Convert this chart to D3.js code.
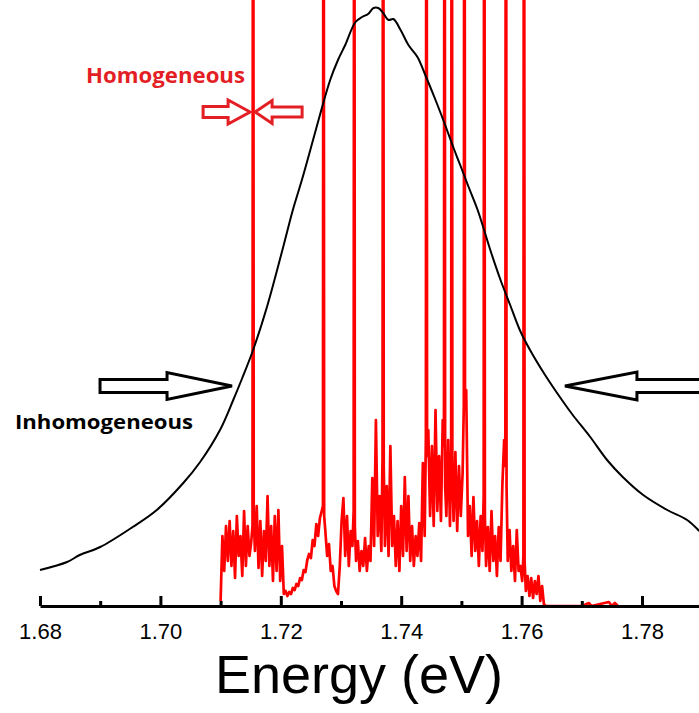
<!DOCTYPE html>
<html>
<head>
<meta charset="utf-8">
<script src="https://cdn.jsdelivr.net/npm/d3@7"></script>
<style>
body { margin: 0; background: #fff; }
</style>
</head>
<body>
<div id="chart"></div>
<script>
// axis ticks (eV)
var energyTicks = [1.68, 1.70, 1.72, 1.74, 1.76, 1.78];
var minorTicks = [1.69, 1.71, 1.73, 1.75, 1.77];

// broad ensemble line (black), [energy, intensity a.u.]
var envelope = [
	[1.6800, 36], [1.6845, 44], [1.6866, 51], [1.6900, 59], [1.6954, 79],
	[1.6994, 96], [1.7038, 123], [1.7066, 144], [1.7099, 176], [1.7121, 206],
	[1.7136, 228], [1.7154, 256], [1.7177, 299], [1.7204, 359], [1.7220, 396],
	[1.7235, 426], [1.7249, 456], [1.7265, 491], [1.7282, 526], [1.7295, 546],
	[1.7307, 561], [1.7324, 584], [1.7335, 589], [1.7345, 592], [1.7354, 598],
	[1.7362, 598], [1.7370, 593], [1.7379, 586], [1.7387, 587], [1.7399, 576],
	[1.7412, 561], [1.7427, 549], [1.7440, 531], [1.7457, 506], [1.7473, 481],
	[1.7487, 458], [1.7498, 441], [1.7512, 419], [1.7527, 396], [1.7548, 356],
	[1.7565, 326], [1.7581, 301], [1.7597, 276], [1.7614, 256], [1.7639, 231],
	[1.7667, 206], [1.7685, 191], [1.7714, 169], [1.7742, 146], [1.7768, 129],
	[1.7802, 111], [1.7842, 96], [1.7875, 86], [1.7895, 75]
];

// single dot spectrum (red), [energy, intensity a.u.] - sharp lines run off the top
var dotSpectrum = [
	[1.7100, 5], [1.7103, 70], [1.7106, 35], [1.7109, 80], [1.7112, 45], [1.7115, 85],
	[1.7118, 40], [1.7121, 75], [1.7124, 28], [1.7127, 90], [1.7130, 50], [1.7133, 70],
	[1.7136, 30], [1.7139, 95], [1.7142, 40], [1.7145, 80], [1.7148, 50], [1.7151, 65],
	[1.7153, 80], [1.7154, 1200], [1.7155, 90],
	[1.7157, 55], [1.7160, 100], [1.7163, 38], [1.7166, 85], [1.7169, 30], [1.7172, 75],
	[1.7175, 45], [1.7178, 110], [1.7181, 40], [1.7184, 80], [1.7187, 25], [1.7190, 90],
	[1.7193, 35], [1.7196, 96], [1.7199, 25], [1.7202, 60], [1.7205, 12], [1.7208, 15],
	[1.7211, 10], [1.7214, 14], [1.7217, 12], [1.7220, 18], [1.7223, 16], [1.7226, 22],
	[1.7229, 20], [1.7232, 28], [1.7235, 26], [1.7238, 36], [1.7241, 34], [1.7244, 46],
	[1.7247, 52], [1.7250, 48], [1.7253, 66], [1.7256, 60], [1.7259, 82], [1.7262, 70],
	[1.7265, 88], [1.7268, 95],
	[1.7270, 100], [1.7271, 1200], [1.7272, 90],
	[1.7274, 75], [1.7277, 50], [1.7280, 62], [1.7283, 35], [1.7286, 40], [1.7289, 20],
	[1.7292, 15], [1.7295, 12], [1.7298, 40], [1.7301, 85], [1.7304, 108], [1.7307, 50],
	[1.7310, 90], [1.7313, 40], [1.7316, 75], [1.7319, 60],
	[1.7321, 95], [1.7322, 1200], [1.7323, 80],
	[1.7325, 45], [1.7328, 65], [1.7331, 35], [1.7334, 55], [1.7337, 40], [1.7340, 68],
	[1.7343, 35], [1.7346, 60], [1.7349, 45], [1.7352, 128], [1.7355, 60], [1.7358, 186],
	[1.7361, 70], [1.7364, 110], [1.7367, 55],
	[1.7369, 150], [1.7370, 1200], [1.7371, 140],
	[1.7373, 60], [1.7376, 120], [1.7379, 50], [1.7382, 160], [1.7385, 60], [1.7388, 90],
	[1.7391, 40], [1.7394, 85], [1.7397, 35], [1.7400, 100], [1.7403, 50], [1.7406, 129],
	[1.7409, 55], [1.7412, 110], [1.7415, 45], [1.7418, 80], [1.7421, 40], [1.7424, 70],
	[1.7427, 50], [1.7430, 83], [1.7433, 45], [1.7436, 143], [1.7439, 70],
	[1.7441, 170], [1.7442, 1200], [1.7443, 150],
	[1.7445, 176], [1.7448, 90], [1.7451, 160], [1.7454, 80], [1.7457, 196], [1.7460, 95],
	[1.7463, 150], [1.7466, 85], [1.7469, 186],
	[1.7471, 160], [1.7472, 1200], [1.7473, 120],
	[1.7475, 90], [1.7478, 166], [1.7481, 80],
	[1.7483, 150], [1.7484, 1200], [1.7485, 140],
	[1.7487, 85], [1.7490, 154], [1.7493, 75], [1.7496, 140], [1.7499, 90], [1.7502, 133],
	[1.7504, 200], [1.7505, 1200], [1.7506, 210],
	[1.7508, 216], [1.7511, 70], [1.7514, 100], [1.7517, 50], [1.7520, 109], [1.7523, 55],
	[1.7526, 85], [1.7529, 40], [1.7532, 90], [1.7535, 55],
	[1.7537, 110], [1.7538, 1200], [1.7539, 90],
	[1.7541, 40], [1.7544, 79], [1.7547, 35], [1.7550, 95], [1.7553, 45], [1.7556, 70],
	[1.7559, 30], [1.7562, 79], [1.7565, 45], [1.7568, 120], [1.7571, 166],
	[1.7573, 140], [1.7574, 1200], [1.7575, 120],
	[1.7577, 45], [1.7580, 76], [1.7583, 35], [1.7586, 60], [1.7589, 25], [1.7592, 76],
	[1.7595, 35], [1.7598, 40], [1.7601, 25],
	[1.7603, 50], [1.7604, 1200], [1.7605, 45],
	[1.7607, 15], [1.7610, 30], [1.7613, 10], [1.7616, 28], [1.7619, 8], [1.7622, 25],
	[1.7625, 12], [1.7628, 30], [1.7631, 5], [1.7634, 20], [1.7637, 2], [1.7640, 0],
	[1.7700, 0], [1.7712, 3], [1.7716, 0], [1.7745, 4], [1.7750, 0], [1.7755, 3], [1.7760, 0]
];

// annotations
var homLine = 1.7154;       // the marked sharp line
var homLevel = 494;
var fwhmEdges = [1.7119, 1.7672];
var fwhmLevel = 220;

var svgSize = {w: 699, h: 713};

var svg = d3.select("#chart").append("svg")
	.attr("width", svgSize.w)
	.attr("height", svgSize.h);

var x = d3.scaleLinear().domain([1.68, 1.79]).range([40, 702.2]);
var y = d3.scaleLinear().domain([0, 600]).range([606, 6]);

var redLine = d3.line()
	.x(function(d){ return x(d[0]); })
	.y(function(d){ return y(d[1]); });

var blackLine = d3.line()
	.curve(d3.curveCatmullRom)
	.x(function(d){ return x(d[0]); })
	.y(function(d){ return y(d[1]); });

svg.append("path")
	.datum(dotSpectrum)
	.attr("d", redLine)
	.style("fill", "none")
	.style("stroke", "#ff0000")
	.style("stroke-width", 2.7)
	.style("stroke-linejoin", "round");

svg.append("path")
	.datum(envelope)
	.attr("d", blackLine)
	.style("fill", "none")
	.style("stroke", "#000")
	.style("stroke-width", 2);

// x axis, ticks point up into the plot
var gAxis = svg.append("g")
	.attr("transform", "translate(0,606)")
	.call(d3.axisBottom(x)
		.tickValues(energyTicks)
		.tickFormat(d3.format(".2f"))
		.tickSize(-10)
		.tickSizeOuter(0)
		.tickPadding(17));

gAxis.select(".domain").attr("stroke-width", 3).attr("stroke", "#000");
gAxis.selectAll(".tick line").attr("stroke-width", 3).attr("stroke", "#000");
gAxis.selectAll(".tick text")
	.attr("fill", "#000")
	.style("font-family", "'Liberation Sans', Arial, sans-serif")
	.style("font-size", "22px");

var gMinor = svg.append("g")
	.attr("transform", "translate(0,606)")
	.call(d3.axisBottom(x).tickValues(minorTicks).tickFormat("").tickSize(-5).tickSizeOuter(0));
gMinor.select(".domain").remove();
gMinor.selectAll(".tick line").attr("stroke-width", 3).attr("stroke", "#000");

svg.append("text")
	.attr("x", x(1.733))
	.attr("y", 693)
	.attr("text-anchor", "middle")
	.attr("textLength", 288)
	.attr("lengthAdjust", "spacingAndGlyphs")
	.style("font-family", "'Liberation Sans', Arial, sans-serif")
	.style("font-size", "54px")
	.text("Energy (eV)");

// outlined block arrow; dir -1 -> body left of tip, +1 -> body right of tip
function blockArrow(tipX, tipY, dir, headLen, headHalf, shaftLen, shaftHalf) {
	var pts = [[0, 0], [headLen, -headHalf], [headLen, -shaftHalf], [headLen + shaftLen, -shaftHalf],
		[headLen + shaftLen, shaftHalf], [headLen, shaftHalf], [headLen, headHalf]];
	return pts.map(function(p){ return [tipX + dir * p[0], tipY + p[1]].join(","); }).join(" ");
}

svg.append("polygon")
	.attr("points", blockArrow(x(fwhmEdges[0]), y(fwhmLevel), -1, 65, 13.5, 67, 6.5))
	.style("fill", "#fff").style("stroke", "#000").style("stroke-width", 3);
svg.append("polygon")
	.attr("points", blockArrow(x(fwhmEdges[1]), y(fwhmLevel), 1, 72, 14, 80, 6.5))
	.style("fill", "#fff").style("stroke", "#000").style("stroke-width", 3);

svg.append("polygon")
	.attr("points", blockArrow(x(homLine) - 3, y(homLevel), -1, 22, 12, 25, 5.5))
	.style("fill", "#fff").style("stroke", "#e31e24").style("stroke-width", 3);
svg.append("polygon")
	.attr("points", blockArrow(x(homLine) + 2, y(homLevel), 1, 17, 11.5, 30, 5))
	.style("fill", "#fff").style("stroke", "#e31e24").style("stroke-width", 3);

svg.append("text")
	.attr("x", 86)
	.attr("y", 83)
	.attr("textLength", 159)
	.attr("lengthAdjust", "spacingAndGlyphs")
	.style("font-family", "'Open Sans', sans-serif")
	.style("font-weight", "bold")
	.style("font-size", "21px")
	.style("fill", "#e31e24")
	.text("Homogeneous");

svg.append("text")
	.attr("x", 15)
	.attr("y", 429)
	.attr("textLength", 178)
	.attr("lengthAdjust", "spacingAndGlyphs")
	.style("font-family", "'Open Sans', sans-serif")
	.style("font-weight", "bold")
	.style("font-size", "20px")
	.style("fill", "#000")
	.text("Inhomogeneous");
</script>
</body>
</html>
